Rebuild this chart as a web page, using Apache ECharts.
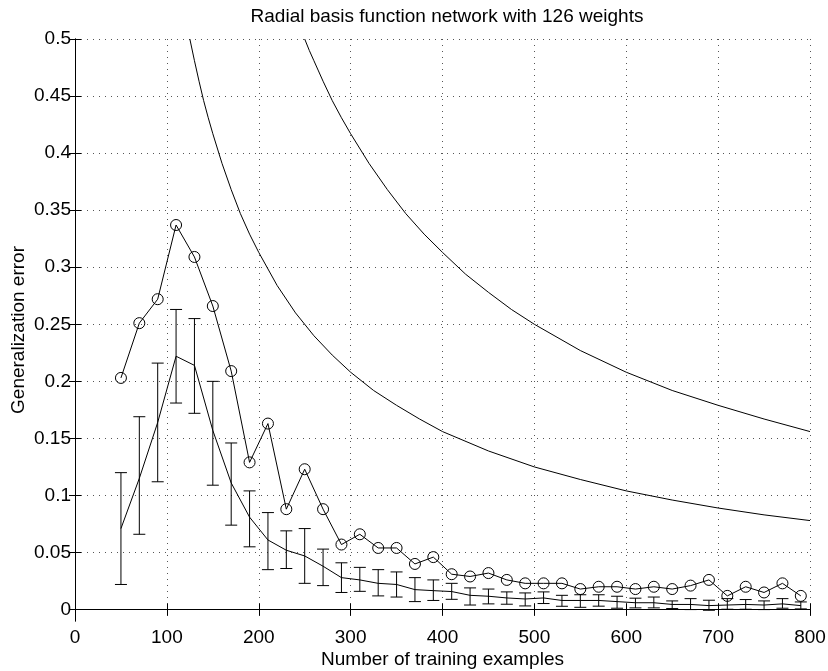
<!DOCTYPE html>
<html>
<head>
<meta charset="utf-8">
<script src="https://cdn.jsdelivr.net/npm/echarts@6/dist/echarts.min.js"></script>
<style>
  html, body { margin: 0; padding: 0; background: #fff; }
  #main { width: 828px; height: 671px; }
</style>
</head>
<body>
<div id="main"></div>
<script>
// training set sizes (x) for the measured points
var sizes = [50, 70, 90, 110, 130, 150, 170, 190, 210, 230, 250, 270, 290, 310, 330, 350, 370, 390,
  410, 430, 450, 470, 490, 510, 530, 550, 570, 590, 610, 630, 650, 670, 690, 710, 730, 750, 770, 790];

// line with circle markers
var circleErr = [0.203, 0.251, 0.272, 0.337, 0.309, 0.266, 0.209, 0.129, 0.163, 0.088, 0.123, 0.088,
  0.057, 0.066, 0.054, 0.054, 0.040, 0.046, 0.031, 0.029, 0.032, 0.026, 0.023, 0.023, 0.023, 0.018,
  0.020, 0.020, 0.018, 0.020, 0.018, 0.021, 0.026, 0.012, 0.020, 0.015, 0.023, 0.012];

// mean line with error bars
var meanErr = [0.071, 0.115, 0.164, 0.222, 0.214, 0.157, 0.111, 0.081, 0.061, 0.052, 0.047, 0.038,
  0.028, 0.026, 0.023, 0.022, 0.0175, 0.0166, 0.0158, 0.0125, 0.0117, 0.0102, 0.0093, 0.0102, 0.008,
  0.008, 0.008, 0.007, 0.006, 0.006, 0.0045, 0.0045, 0.0035, 0.004, 0.0045, 0.004, 0.005, 0.0035];
var barHigh = [0.120, 0.169, 0.216, 0.263, 0.255, 0.200, 0.146, 0.104, 0.085, 0.069, 0.071, 0.053,
  0.041, 0.037, 0.035, 0.033, 0.028, 0.026, 0.023, 0.019, 0.018, 0.0155, 0.0146, 0.0155, 0.0125,
  0.013, 0.013, 0.0117, 0.010, 0.011, 0.0076, 0.0096, 0.0082, 0.0096, 0.0088, 0.0076, 0.0096, 0.0067];
var barLow = [0.022, 0.066, 0.112, 0.181, 0.172, 0.109, 0.074, 0.055, 0.035, 0.036, 0.023, 0.021,
  0.015, 0.016, 0.012, 0.011, 0.007, 0.008, 0.009, 0.004, 0.005, 0.0047, 0.0032, 0.0053, 0.0029,
  0.002, 0.003, 0.0012, 0.0015, 0.0015, 0.0009, 0.0, -0.0006, 0.0003, 0.0003, 0.0, 0.0012, 0.0006];

// the two bound curves
var lowerX = [125, 130, 135, 140, 145, 150, 160, 170, 180, 190, 200, 220, 240, 260, 280, 300,
  325, 350, 375, 400, 450, 500, 550, 600, 650, 700, 750, 800];
var lowerY = [0.500, 0.481, 0.463, 0.446, 0.431, 0.417, 0.391, 0.368, 0.347, 0.329, 0.313, 0.284,
  0.260, 0.240, 0.223, 0.208, 0.192, 0.179, 0.167, 0.156, 0.139, 0.125, 0.114, 0.104, 0.096, 0.089,
  0.083, 0.078];
var upperX = [250, 255, 260, 265, 270, 280, 290, 300, 320, 340, 360, 380, 400, 425, 450, 475, 500,
  550, 600, 650, 700, 750, 800];
var upperY = [0.500, 0.490, 0.481, 0.472, 0.463, 0.446, 0.431, 0.417, 0.391, 0.368, 0.347, 0.329,
  0.313, 0.294, 0.278, 0.263, 0.250, 0.227, 0.208, 0.192, 0.179, 0.167, 0.156];

var yTicks = [0, 0.05, 0.1, 0.15, 0.2, 0.25, 0.3, 0.35, 0.4, 0.45, 0.5];

function pairs(xs, ys) {
  return xs.map(function (x, i) { return [x, ys[i]]; });
}

var font = 'Liberation Sans, Arial, Helvetica, sans-serif';
var gridLine = { show: true, lineStyle: { color: '#555', width: 1, type: [1, 5] } };

var myChart = echarts.init(document.getElementById('main'));

function renderErrorBar(params, api) {
  var x = api.value(0);
  var top = api.coord([x, api.value(2)]);
  var bot = api.coord([x, api.value(1)]);
  var hw = 6;
  var style = { stroke: '#000', lineWidth: 1 };
  return {
    type: 'group',
    children: [
      { type: 'line', shape: { x1: top[0], y1: top[1], x2: bot[0], y2: bot[1] }, style: style },
      { type: 'line', shape: { x1: top[0] - hw, y1: top[1], x2: top[0] + hw, y2: top[1] }, style: style },
      { type: 'line', shape: { x1: bot[0] - hw, y1: bot[1], x2: bot[0] + hw, y2: bot[1] }, style: style }
    ]
  };
}

var option = {
  animation: false,
  backgroundColor: '#fff',
  textStyle: { fontFamily: font, color: '#000' },
  title: {
    text: 'Radial basis function network with 126 weights',
    left: 442,
    textAlign: 'center',
    top: 2,
    textStyle: { fontFamily: font, fontSize: 19, fontWeight: 'normal', color: '#000' }
  },
  grid: { left: 75, right: 18, top: 39, bottom: 50, containLabel: false, outerBoundsMode: 'none' },
  xAxis: [{
    type: 'value',
    min: 0, max: 800, interval: 100,
    name: 'Number of training examples',
    nameLocation: 'middle',
    nameGap: 29,
    nameMoveOverlap: false,
    nameTextStyle: { fontFamily: font, fontSize: 19, color: '#000' },
    axisLine: { show: true, lineStyle: { color: '#000', width: 1 } },
    axisTick: { show: true, inside: true, length: 6, lineStyle: { color: '#000' } },
    axisLabel: { fontFamily: font, fontSize: 19, color: '#000', margin: 7 },
    splitLine: gridLine
  }, {
    type: 'value',
    position: 'top',
    min: 0, max: 800, interval: 100,
    axisLine: { show: true, lineStyle: { color: '#000', width: 1 } },
    axisTick: { show: true, inside: true, length: 6, lineStyle: { color: '#000' } },
    axisLabel: { show: false },
    splitLine: { show: false }
  }],
  yAxis: [{
    type: 'value',
    min: -0.01, max: 0.5,
    name: 'Generalization error',
    nameLocation: 'middle',
    nameGap: 47,
    nameMoveOverlap: false,
    nameTextStyle: { fontFamily: font, fontSize: 19, color: '#000' },
    axisLine: { show: true, lineStyle: { color: '#000', width: 1 } },
    axisTick: { show: true, inside: true, length: 6, customValues: yTicks, lineStyle: { color: '#000' } },
    axisLabel: { fontFamily: font, fontSize: 19, color: '#000', margin: 4, customValues: yTicks },
    splitLine: gridLine
  }, {
    type: 'value',
    position: 'right',
    min: -0.01, max: 0.5,
    axisLine: { show: true, lineStyle: { color: '#000', width: 1 } },
    axisTick: { show: true, inside: true, length: 6, customValues: yTicks, lineStyle: { color: '#000' } },
    axisLabel: { show: false },
    splitLine: { show: false }
  }],
  series: [{
    type: 'line',
    data: pairs(sizes, meanErr),
    showSymbol: false,
    symbol: 'none',
    lineStyle: { color: '#000', width: 1 }
  }, {
    type: 'custom',
    data: sizes.map(function (x, i) { return [x, barLow[i], barHigh[i]]; }),
    renderItem: renderErrorBar,
    encode: { x: 0, y: [1, 2] }
  }, {
    type: 'line',
    data: pairs(sizes, circleErr),
    symbol: 'circle',
    symbolSize: 11,
    itemStyle: { color: 'rgba(0,0,0,0)', borderColor: '#000', borderWidth: 1 },
    lineStyle: { color: '#000', width: 1 }
  }, {
    type: 'line',
    data: pairs(lowerX, lowerY),
    symbol: 'none',
    lineStyle: { color: '#000', width: 1 }
  }, {
    type: 'line',
    data: pairs(upperX, upperY),
    symbol: 'none',
    lineStyle: { color: '#000', width: 1 }
  }]
};

myChart.setOption(option);
</script>
</body>
</html>
